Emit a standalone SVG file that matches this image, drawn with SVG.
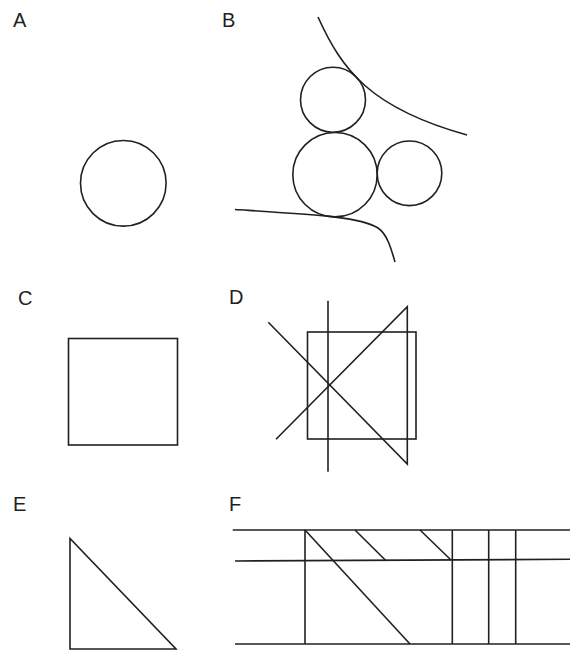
<svg xmlns="http://www.w3.org/2000/svg" width="574" height="651" viewBox="0 0 574 651">
<style>
.lbl{font-family:"Liberation Sans",Arial,sans-serif;font-size:20px;fill:#231f20}
.s{fill:none;stroke:#231f20;stroke-width:1.6;stroke-linejoin:miter}
</style>
<rect width="574" height="651" fill="#fff"/>
<g id="panelA">
<text class="lbl" x="13" y="27">A</text>
<circle class="s" cx="123.3" cy="183.3" r="42.8"/>
</g>
<g id="panelB">
<text class="lbl" x="222" y="27">B</text>
<path class="s" d="M318,17 C342,70 370,108 467,135"/>
<circle class="s" cx="333" cy="99.7" r="32.5"/>
<circle class="s" cx="335" cy="174.7" r="42.2"/>
<circle class="s" cx="409.5" cy="173.3" r="32.3"/>
<path class="s" d="M235,209.5 C320,215 360,217 378,228 C387,234 391,248 395,262"/>
</g>
<g id="panelC">
<text class="lbl" x="18" y="305">C</text>
<rect class="s" x="68.5" y="338.5" width="109" height="106.5"/>
</g>
<g id="panelD">
<text class="lbl" x="229" y="304">D</text>
<rect class="s" x="307.5" y="332" width="108.5" height="107"/>
<line class="s" x1="328" y1="300.7" x2="328" y2="471.7"/>
<path class="s" d="M276,439.3 L407.3,306.7 L407.3,464 L268.3,322.3"/>
</g>
<g id="panelE">
<text class="lbl" x="13" y="511">E</text>
<path class="s" d="M70,538.5 L70,649 L176,649 Z"/>
</g>
<g id="panelF">
<text class="lbl" x="229" y="511">F</text>
<line class="s" x1="232.7" y1="530" x2="570" y2="530"/>
<line class="s" x1="235" y1="561" x2="570" y2="559.3"/>
<line class="s" x1="235" y1="644" x2="570" y2="644"/>
<line class="s" x1="305" y1="530" x2="305" y2="644"/>
<line class="s" x1="305" y1="530" x2="410" y2="644"/>
<line class="s" x1="355" y1="530" x2="386" y2="560.7"/>
<line class="s" x1="420" y1="530" x2="451" y2="560"/>
<line class="s" x1="452.3" y1="530" x2="452.3" y2="644"/>
<line class="s" x1="488.7" y1="530" x2="488.7" y2="644"/>
<line class="s" x1="515.7" y1="530" x2="515.7" y2="644"/>
</g>
</svg>
